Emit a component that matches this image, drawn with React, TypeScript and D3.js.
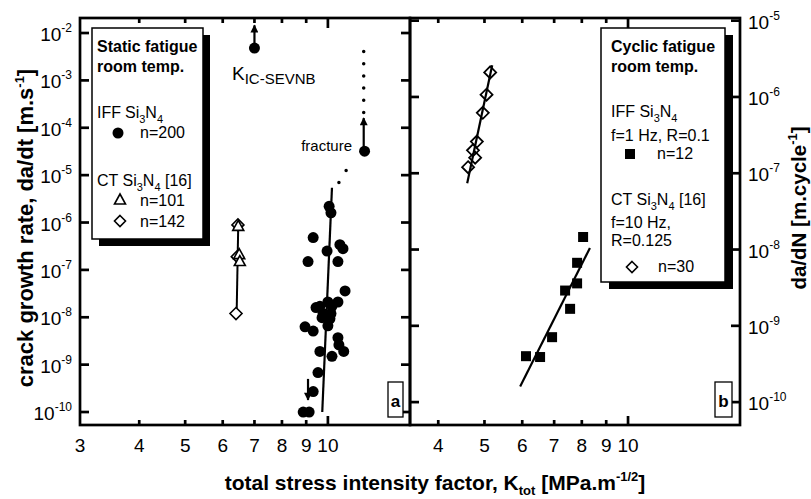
import React from "react";
import * as d3 from "d3";

const FONT = "'Liberation Sans', Arial, Helvetica, sans-serif";

type Pt = [number, number];

// panel a - static fatigue, crack growth rate da/dt (m/s) vs K (MPa m^1/2)
const staticIFF: Pt[] = [
  [10.06, 2.2e-6], [10.15, 1.6e-6], [9.31, 4.8e-7], [10.6, 3.4e-7], [10.76, 2.8e-7],
  [9.96, 2.5e-7], [9.08, 1.5e-7], [10.5, 1.5e-7], [10.87, 3.6e-8], [10.5, 2.1e-8],
  [10.0, 2.1e-8], [9.44, 1.6e-8], [9.62, 1.7e-8], [10.2, 1.7e-8], [9.77, 1.2e-8],
  [10.15, 1.2e-8], [9.72, 9.8e-9], [10.1, 9.3e-9], [10.0, 6.6e-9], [8.95, 6.3e-9],
  [9.31, 5.1e-9], [10.5, 3.7e-9], [10.55, 2.6e-9], [10.8, 1.9e-9], [9.62, 1.9e-9],
  [10.2, 1.5e-9], [9.53, 6.8e-10], [9.31, 2.7e-10], [8.87, 1.0e-10], [9.13, 1.0e-10],
];
const staticCTTriangles: Pt[] = [[6.47, 8.3e-7], [6.5, 2.1e-7], [6.52, 1.5e-7]];
const staticCTDiamonds: Pt[] = [[6.46, 8.9e-7], [6.44, 1.9e-7], [6.4, 1.2e-8]];
const staticIFFFit: Pt[] = [[9.73, 1e-10], [10.2, 5.4e-6]];
const staticCTFit: Pt[] = [[6.47, 8.9e-7], [6.42, 1.2e-8]];
const staticExtrapolation: Pt[] = [[10.55, 7e-6], [11.3, 2.2e-5]];
const kicPoint: Pt = [7.0, 4.8e-3];
const fracturePoint: Pt = [11.95, 3.2e-5];
const fractureDots: Pt[] = [[11.9, 2.1e-4], [11.9, 4.4e-3]];
const staticArrows = [
  { k: 7.0, from: 4.8e-3, to: 1.45e-2 },
  { k: 11.9, from: 3.2e-5, to: 1.6e-4 },
  { k: 9.08, from: 5e-10, to: 1.8e-10 },
];

// panel b - cyclic fatigue, da/dN (m/cycle) vs K
const cyclicIFF: Pt[] = [
  [8.05, 1.46e-8], [7.82, 6.7e-9], [7.82, 3.6e-9], [7.38, 2.9e-9],
  [7.56, 1.67e-9], [6.93, 7.1e-10], [6.11, 4.0e-10], [6.54, 3.9e-10],
];
const cyclicCT: Pt[] = [
  [5.14, 2.1e-6], [5.05, 1.07e-6], [4.96, 6.2e-7], [4.82, 2.6e-7],
  [4.73, 2.0e-7], [4.78, 1.6e-7], [4.62, 1.2e-7],
];
const cyclicIFFFit: Pt[] = [[5.94, 1.6e-10], [8.32, 1.05e-8]];
const cyclicCTFit: Pt[] = [[4.6, 7.4e-8], [5.19, 2.6e-6]];

// axes
const kTicks = [4, 5, 6, 7, 8, 9, 10];
const kLabelsA = [3, 4, 5, 6, 7, 8, 9, 10];
const kLabelsB = [4, 5, 6, 7, 8, 9, 10];
const rateExponents = [-2, -3, -4, -5, -6, -7, -8, -9, -10];
const cycleExponents = [-5, -6, -7, -8, -9, -10];

const A = { x0: 80, x1: 410, y0: 18, y1: 425 };
const B = { x0: 410, x1: 740, y0: 18, y1: 425 };

const diamond = (x: number, y: number, s = 6) =>
  `M${x},${y - s}L${x + s},${y}L${x},${y + s}L${x - s},${y}Z`;
const triangle = (x: number, y: number) =>
  `M${x},${y - 6}L${x + 5.5},${y + 4}L${x - 5.5},${y + 4}Z`;

// Si3N4 with subscripts; the tspan after it must carry dy={-5}
const Si3N4 = ({ x }: { x?: number }) => (
  <>
    <tspan x={x}>Si</tspan>
    <tspan dy={5} fontSize={11}>3</tspan>
    <tspan dy={-5}>N</tspan>
    <tspan dy={5} fontSize={11}>4</tspan>
  </>
);

export default function App() {
  const xA = d3.scaleLog().domain([3, 14.9]).range([A.x0, A.x1]);
  const yA = d3.scaleLog().domain([Math.pow(10, -10.274), Math.pow(10, -1.683)]).range([A.y1, A.y0]);
  const xB = d3.scaleLog().domain([3.49, 17.17]).range([B.x0, B.x1]);
  const yB = d3.scaleLog().domain([Math.pow(10, -10.3), Math.pow(10, -4.965)]).range([B.y1, B.y0]);

  const lineA = d3.line<Pt>().x((d) => xA(d[0])).y((d) => yA(d[1]));
  const lineB = d3.line<Pt>().x((d) => xB(d[0])).y((d) => yB(d[1]));

  const sw = 2.7;

  const xTicks = (xs: any, P: typeof A) =>
    kTicks.map((k) => (
      <g key={k}>
        <line x1={xs(k)} x2={xs(k)} y1={P.y1} y2={P.y1 - (k === 10 ? 9 : 5)} stroke="#000" strokeWidth={sw} />
        <line x1={xs(k)} x2={xs(k)} y1={P.y0} y2={P.y0 + (k === 10 ? 10 : 5)} stroke="#000" strokeWidth={sw} />
      </g>
    ));

  return (
    <svg width={811} height={499} style={{ position: "absolute", left: 0, top: 0, background: "#fff" }} fontFamily={FONT}>
      <defs>
        <marker id="arr" viewBox="0 0 10 10" refX="9" refY="5" markerWidth="9" markerHeight="8" markerUnits="userSpaceOnUse" orient="auto">
          <path d="M0,0L10,5L0,10Z" fill="#000" />
        </marker>
      </defs>

      {/* frames */}
      <rect x={A.x0} y={A.y0} width={A.x1 - A.x0} height={A.y1 - A.y0} fill="none" stroke="#000" strokeWidth={sw} />
      <rect x={B.x0} y={B.y0} width={B.x1 - B.x0} height={B.y1 - B.y0} fill="none" stroke="#000" strokeWidth={sw} />

      {xTicks(xA, A)}
      {xTicks(xB, B)}
      {rateExponents.map((e) => (
        <g key={e}>
          <line x1={A.x0} x2={A.x0 + 9} y1={yA(Math.pow(10, e))} y2={yA(Math.pow(10, e))} stroke="#000" strokeWidth={sw} />
          <line x1={A.x1} x2={A.x1 - 9} y1={yA(Math.pow(10, e))} y2={yA(Math.pow(10, e))} stroke="#000" strokeWidth={sw} />
          <text x={72} y={yA(Math.pow(10, e)) + 8} textAnchor="end" fontSize={19}>
            10<tspan dy={-9} fontSize={12}>{e}</tspan>
          </text>
        </g>
      ))}
      {cycleExponents.map((e) => (
        <g key={e}>
          <line x1={B.x0} x2={B.x0 + 9} y1={yB(Math.pow(10, e))} y2={yB(Math.pow(10, e))} stroke="#000" strokeWidth={sw} />
          <line x1={B.x1} x2={B.x1 - 9} y1={yB(Math.pow(10, e))} y2={yB(Math.pow(10, e))} stroke="#000" strokeWidth={sw} />
          <text x={748} y={yB(Math.pow(10, e)) + 8} fontSize={19}>
            10<tspan dy={-9} fontSize={12}>{e}</tspan>
          </text>
        </g>
      ))}
      {kLabelsA.map((k) => (
        <text key={"a" + k} x={xA(k)} y={452} textAnchor="middle" fontSize={19}>{k}</text>
      ))}
      {kLabelsB.map((k) => (
        <text key={"b" + k} x={xB(k)} y={452} textAnchor="middle" fontSize={19}>{k}</text>
      ))}

      {/* axis titles */}
      <text x={435} y={490} textAnchor="middle" fontSize={21} fontWeight="bold">
        total stress intensity factor, K<tspan dy={5} fontSize={13}>tot</tspan>
        <tspan dy={-5}> [MPa.m</tspan><tspan dy={-9} fontSize={13}>-1/2</tspan><tspan dy={9}>]</tspan>
      </text>
      <text transform="translate(33,228) rotate(-90)" textAnchor="middle" fontSize={22} fontWeight="bold">
        crack growth rate, da/dt [m.s<tspan dy={-9} fontSize={13}>-1</tspan><tspan dy={9}>]</tspan>
      </text>
      <text transform="translate(806,208) rotate(-90)" textAnchor="middle" fontSize={20.5} fontWeight="bold">
        da/dN [m.cycle<tspan dy={-9} fontSize={13}>-1</tspan><tspan dy={9}>]</tspan>
      </text>

      {/* panel a data */}
      <path d={lineA(staticIFFFit) || ""} stroke="#000" strokeWidth={2.2} fill="none" />
      <path d={lineA(staticCTFit) || ""} stroke="#000" strokeWidth={2} fill="none" />
      <path d={lineA(staticExtrapolation) || ""} stroke="#000" strokeWidth={3.5} strokeLinecap="round" strokeDasharray="0 14" fill="none" />
      <path d={lineA(fractureDots) || ""} stroke="#000" strokeWidth={3.5} strokeLinecap="round" strokeDasharray="0 12.2" fill="none" />
      {staticArrows.map((a, i) => (
        <line key={i} x1={xA(a.k)} x2={xA(a.k)} y1={yA(a.from)} y2={yA(a.to)} stroke="#000" strokeWidth={2.2} markerEnd="url(#arr)" />
      ))}
      {staticIFF.map((d, i) => (
        <circle key={i} cx={xA(d[0])} cy={yA(d[1])} r={5.5} fill="#000" />
      ))}
      <circle cx={xA(kicPoint[0])} cy={yA(kicPoint[1])} r={5.5} fill="#000" />
      <circle cx={xA(fracturePoint[0])} cy={yA(fracturePoint[1])} r={5.5} fill="#000" />
      {staticCTDiamonds.map((d, i) => (
        <path key={i} d={diamond(xA(d[0]), yA(d[1]))} fill="#fff" stroke="#000" strokeWidth={1.6} />
      ))}
      {staticCTTriangles.map((d, i) => (
        <path key={i} d={triangle(xA(d[0]), yA(d[1]))} fill="#fff" stroke="#000" strokeWidth={1.6} />
      ))}
      <text x={232} y={80} fontSize={19}>
        K<tspan dy={4} fontSize={15}>IC-SEVNB</tspan>
      </text>
      <text x={352} y={151} textAnchor="end" fontSize={15}>fracture</text>
      <rect x={388} y={382} width={15} height={35} fill="#fff" stroke="#000" strokeWidth={1.3} />
      <text x={395.5} y={407} textAnchor="middle" fontSize={17} fontWeight="bold">a</text>

      {/* panel b data */}
      <path d={lineB(cyclicCTFit) || ""} stroke="#000" strokeWidth={2.2} fill="none" />
      <path d={lineB(cyclicIFFFit) || ""} stroke="#000" strokeWidth={2.2} fill="none" />
      {cyclicCT.map((d, i) => (
        <path key={i} d={diamond(xB(d[0]), yB(d[1]))} fill="none" stroke="#000" strokeWidth={1.8} />
      ))}
      {cyclicIFF.map((d, i) => (
        <rect key={i} x={xB(d[0]) - 5} y={yB(d[1]) - 5} width={10} height={10} fill="#000" />
      ))}
      <rect x={715} y={382} width={17} height={35} fill="#fff" stroke="#000" strokeWidth={1.3} />
      <text x={723.5} y={407} textAnchor="middle" fontSize={17} fontWeight="bold">b</text>

      {/* legend a */}
      <rect x={99} y={35} width={111} height={211} fill="#000" />
      <rect x={92} y={28} width={111} height={211} fill="#fff" stroke="#000" strokeWidth={1.5} />
      <text x={97} y={52} fontSize={16} fontWeight="bold">Static fatigue</text>
      <text x={97} y={72} fontSize={16} fontWeight="bold">room temp.</text>
      <text x={97} y={118} fontSize={16}>IFF<Si3N4 x={125} /></text>
      <circle cx={118} cy={133} r={5.5} fill="#000" />
      <text x={140} y={138} fontSize={16}>n=200</text>
      <text x={97} y={186} fontSize={16}>CT <Si3N4 /><tspan dy={-5}> [16]</tspan></text>
      <path d={triangle(120, 200)} fill="#fff" stroke="#000" strokeWidth={1.6} />
      <text x={140} y={206} fontSize={16}>n=101</text>
      <path d={diamond(120, 221, 5.5)} fill="#fff" stroke="#000" strokeWidth={1.6} />
      <text x={140} y={227} fontSize={16}>n=142</text>

      {/* legend b */}
      <rect x={609} y={35} width={124} height={254} fill="#000" />
      <rect x={601} y={28} width={124} height={254} fill="#fff" stroke="#000" strokeWidth={1.5} />
      <text x={611} y={52} fontSize={16} fontWeight="bold">Cyclic fatigue</text>
      <text x={611} y={72} fontSize={16} fontWeight="bold">room temp.</text>
      <text x={611} y={117} fontSize={16}>IFF <Si3N4 /></text>
      <text x={611} y={141} fontSize={16}>f=1 Hz, R=0.1</text>
      <rect x={625} y={149} width={10} height={10} fill="#000" />
      <text x={657} y={159} fontSize={16}>n=12</text>
      <text x={611} y={205} fontSize={16}>CT <Si3N4 /><tspan dy={-5}> [16]</tspan></text>
      <text x={611} y={228} fontSize={16}>f=10 Hz,</text>
      <text x={611} y={246} fontSize={16}>R=0.125</text>
      <path d={diamond(632, 267, 5.5)} fill="#fff" stroke="#000" strokeWidth={1.6} />
      <text x={658} y={272} fontSize={16}>n=30</text>
    </svg>
  );
}
